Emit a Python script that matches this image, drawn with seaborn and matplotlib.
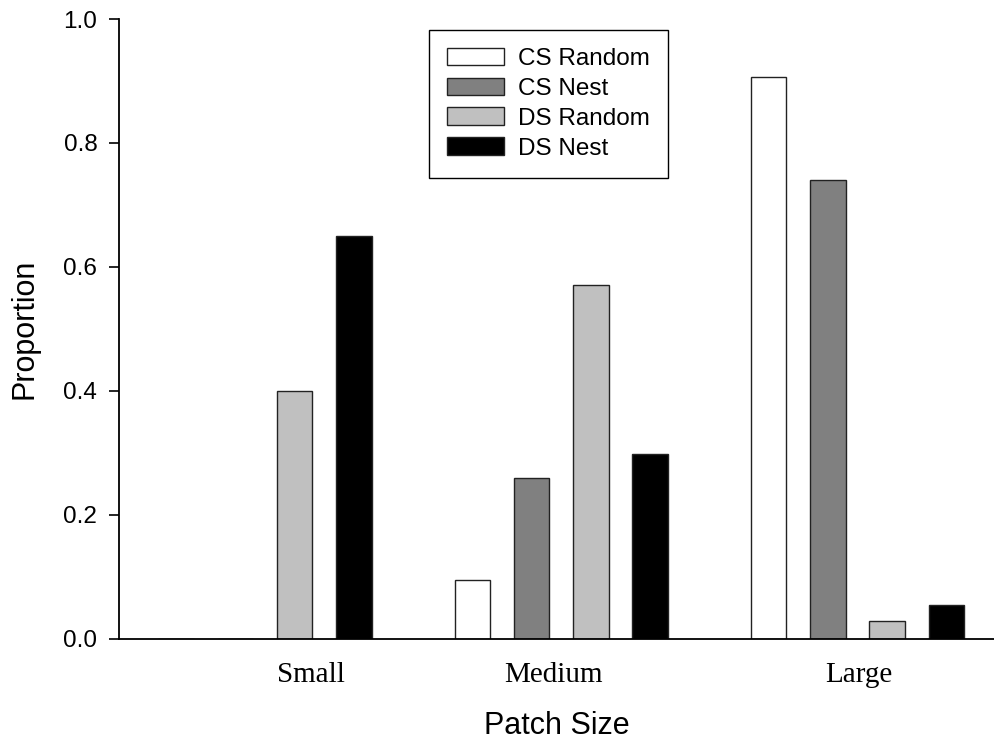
import matplotlib
matplotlib.use("Agg")
import matplotlib.pyplot as plt
import numpy as np
import pandas as pd
import seaborn as sns

# ---- data ----
categories = ["Small", "Medium", "Large"]
series = ["CS Random", "CS Nest", "DS Random", "DS Nest"]
cs_random = [0.0, 0.094, 0.906]
cs_nest = [0.0, 0.260, 0.740]
ds_random = [0.400, 0.571, 0.028]
ds_nest = [0.650, 0.298, 0.055]
y_ticks = [0.0, 0.2, 0.4, 0.6, 0.8, 1.0]
colors = ["#ffffff", "#808080", "#c0c0c0", "#000000"]

rows = []
for name, vals in zip(series, [cs_random, cs_nest, ds_random, ds_nest]):
    for cat, v in zip(categories, vals):
        rows.append({"Patch Size": cat, "Proportion": v, "Series": name})
df = pd.DataFrame(rows)

sns.set_theme(style="ticks")
plt.rcParams["font.family"] = ["Liberation Sans", "DejaVu Sans"]
plt.rcParams["text.color"] = "black"
plt.rcParams["axes.labelcolor"] = "black"
plt.rcParams["xtick.color"] = "black"
plt.rcParams["ytick.color"] = "black"

W, H = 995, 742
fig = plt.figure(figsize=(W / 100, H / 100), dpi=100)
ax_left, ax_right, ax_top, ax_bottom = 119.5, 995, 19, 638.7
ax = fig.add_axes([ax_left / W, (H - ax_bottom) / H,
                   (ax_right - ax_left) / W, (ax_bottom - ax_top) / H])

sns.barplot(data=df, x="Patch Size", y="Proportion", hue="Series",
            order=categories, hue_order=series,
            palette=dict(zip(series, colors)), saturation=1,
            width=0.8, gap=0.4, edgecolor="#222222", linewidth=1.0,
            errorbar=None, ax=ax)

ax.set_xlim(-0.4915, 2.464)
ax.set_ylim(0, 1)
ax.set_yticks(y_ticks, labels=[f"{t:.1f}" for t in y_ticks])
ax.set_xticks([0.155, 0.973, 2.003], labels=categories)
for lab in ax.get_xticklabels():
    lab.set_fontfamily("Liberation Serif")

ax.tick_params(axis="y", length=7, width=1.2, labelsize=17.5, pad=9, direction="out")
ax.tick_params(axis="x", length=0, labelsize=21, pad=17)

for s in ["top", "right"]:
    ax.spines[s].set_visible(False)
for s in ["left", "bottom"]:
    ax.spines[s].set_linewidth(1.3)
    ax.spines[s].set_color("black")

ax.set_ylabel("Proportion", fontsize=22, labelpad=17)
ax.set_xlabel("Patch Size", fontsize=22, labelpad=16.5)

handles, labels = ax.get_legend_handles_labels()
leg = ax.legend(handles, labels, loc="upper left",
                bbox_to_anchor=(0.3535, 0.983), borderaxespad=0,
                fontsize=17.5, handlelength=2.34, handleheight=0.74,
                handletextpad=0.58, labelspacing=0.31, borderpad=0.75,
                frameon=True, fancybox=False, framealpha=1,
                edgecolor="black")
leg.get_frame().set_linewidth(1.0)

fig.savefig("out.png", dpi=100)
